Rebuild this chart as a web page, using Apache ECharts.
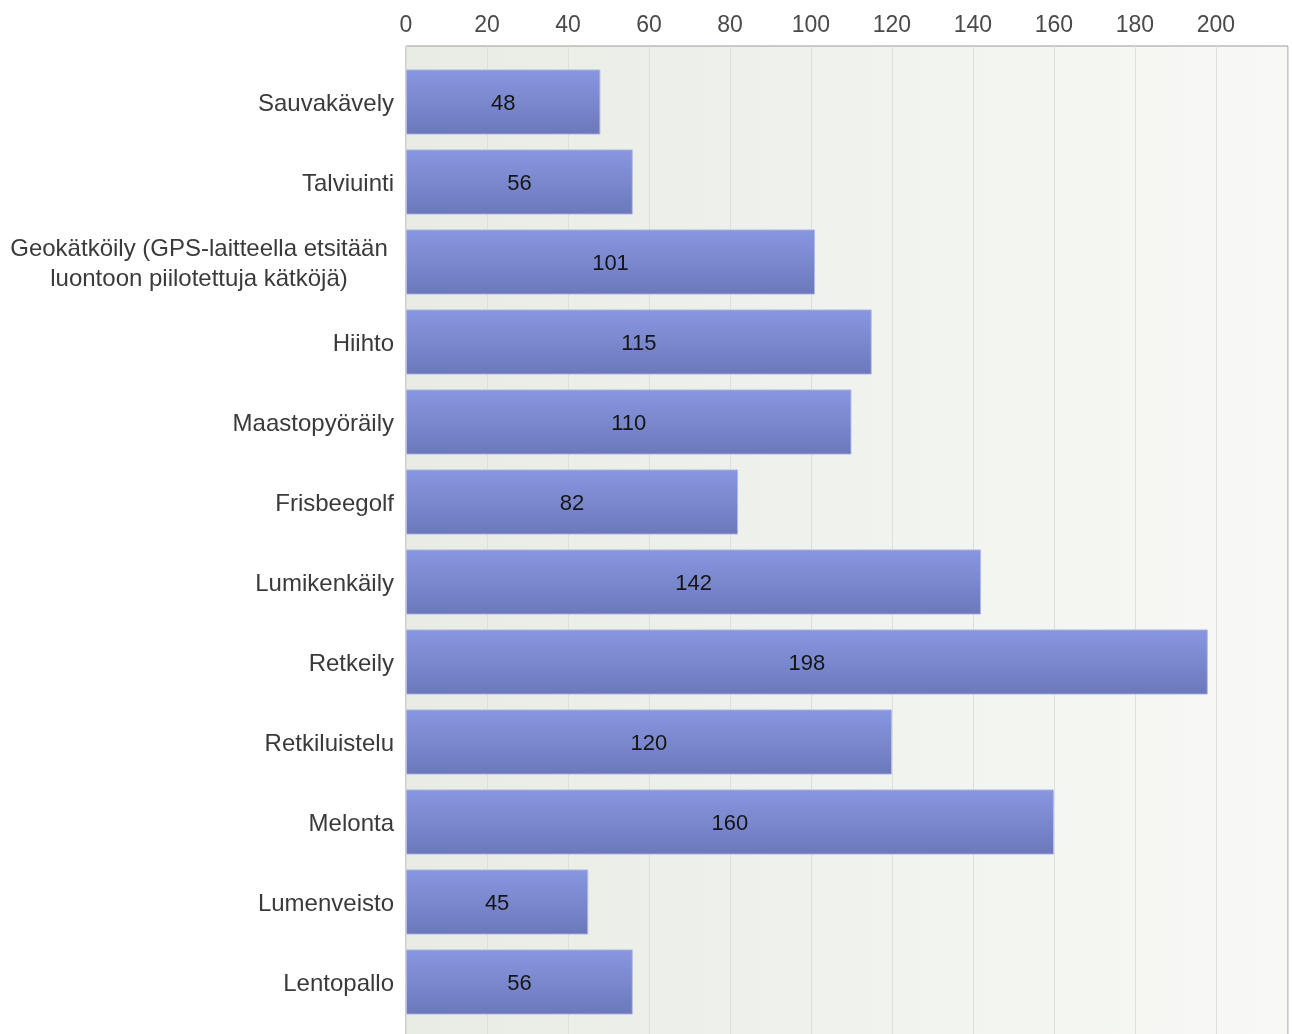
<!DOCTYPE html>
<html>
<head>
<meta charset="utf-8">
<script src="https://cdn.jsdelivr.net/npm/echarts@6/dist/echarts.min.js"></script>
<style>
  html, body { margin: 0; padding: 0; background: #ffffff; }
  #chart { width: 1292px; height: 1034px; }
</style>
</head>
<body>
<div id="chart"></div>
<script>
// Activities and how many respondents chose each
const categories = [
  'Sauvakävely',
  'Talviuinti',
  'Geokätköily (GPS-laitteella etsitään\nluontoon piilotettuja kätköjä)',
  'Hiihto',
  'Maastopyöräily',
  'Frisbeegolf',
  'Lumikenkäily',
  'Retkeily',
  'Retkiluistelu',
  'Melonta',
  'Lumenveisto',
  'Lentopallo'
];
const values = [48, 56, 101, 115, 110, 82, 142, 198, 120, 160, 45, 56];
const axisMax = 217.8;
const tickStep = 20;

const FONT = '"Liberation Sans", Arial, sans-serif';
const LEFT = 406;
const RIGHT = 4;

const chart = echarts.init(document.getElementById('chart'), null, { renderer: 'canvas' });

chart.setOption({
  animation: false,
  backgroundColor: '#ffffff',
  grid: [
    {
      // frame: shaded plot area, gridlines and the top value axis;
      // it runs on past the bottom edge of the canvas
      left: LEFT, right: RIGHT, top: 46, height: 1010,
      outerBoundsMode: 'none',
      containLabel: false,
      show: true,
      borderColor: '#9a9a9a',
      borderWidth: 1,
      backgroundColor: new echarts.graphic.LinearGradient(0, 0, 1, 0, [
        { offset: 0, color: '#e8ece4' },
        { offset: 1, color: '#f8f9f6' }
      ])
    },
    {
      // bars
      left: LEFT, right: RIGHT, top: 62, height: 960,
      outerBoundsMode: 'none',
      containLabel: false
    }
  ],
  xAxis: [
    {
      gridIndex: 0,
      type: 'value',
      position: 'top',
      min: 0,
      max: axisMax,
      interval: tickStep,
      axisLine: { show: true, lineStyle: { color: '#8c8c8c', width: 2 } },
      axisTick: { show: true, length: 5, lineStyle: { color: '#8c8c8c' } },
      axisLabel: {
        show: true, showMaxLabel: false, margin: 9,
        color: '#4a4a4a', fontSize: 23, fontFamily: FONT
      },
      splitLine: { show: true, lineStyle: { color: '#dcdfda', width: 1 } }
    },
    {
      gridIndex: 1,
      type: 'value',
      min: 0,
      max: axisMax,
      show: false
    }
  ],
  yAxis: [
    {
      gridIndex: 0,
      type: 'value',
      show: false
    },
    {
      gridIndex: 1,
      type: 'category',
      inverse: true,
      data: categories,
      axisLine: { show: false },
      axisTick: { show: false },
      splitLine: { show: false },
      axisLabel: {
        margin: 12,
        color: '#3a3a3a',
        fontSize: 24,
        fontFamily: FONT,
        lineHeight: 30,
        padding: [4, 0, 0, 0],
        formatter: function (v) {
          if (v.indexOf('\n') < 0) return v;
          return v.split('\n').map(function (s) { return '{c|' + s + '}'; }).join('\n');
        },
        rich: {
          c: {
            width: 390, align: 'center',
            color: '#3a3a3a', fontSize: 24, fontFamily: FONT, lineHeight: 30
          }
        }
      }
    }
  ],
  series: [
    {
      type: 'bar',
      xAxisIndex: 1,
      yAxisIndex: 1,
      data: values,
      barCategoryGap: '18.5%',
      itemStyle: {
        color: new echarts.graphic.LinearGradient(0, 0, 0, 1, [
          { offset: 0, color: '#8997e2' },
          { offset: 1, color: '#6b78ba' }
        ]),
        borderColor: 'rgba(176,184,232,0.9)',
        borderWidth: 1
      },
      label: {
        show: true,
        position: 'inside',
        offset: [0, 2],
        color: '#151515',
        fontSize: 22,
        fontFamily: FONT
      }
    }
  ]
});
</script>
</body>
</html>
